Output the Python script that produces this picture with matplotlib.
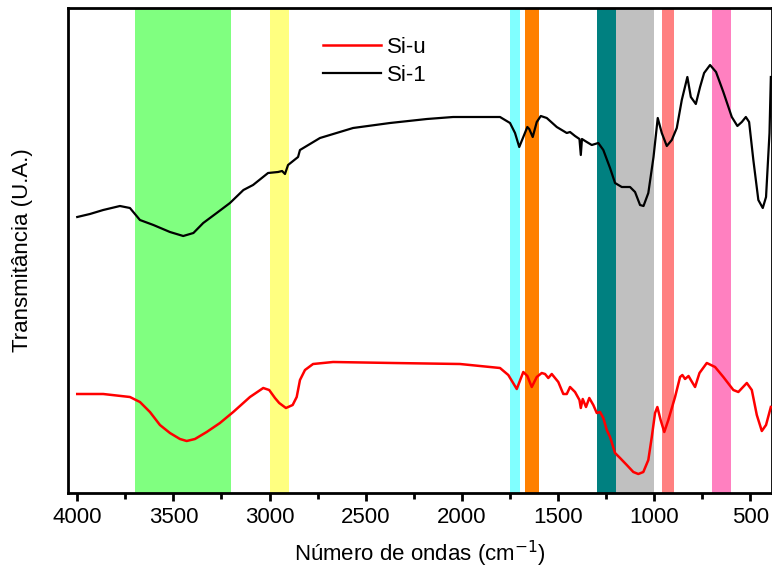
import numpy as np
import matplotlib
matplotlib.use("Agg")
import matplotlib.pyplot as plt
from matplotlib.ticker import MultipleLocator

plt.rcParams['font.family'] = ['Liberation Sans', 'DejaVu Sans']

# Si-1 (black)
wn_si1 = [4000, 3934, 3865, 3778, 3726, 3674, 3604, 3518, 3449, 3396, 3345, 3275, 3206,
          3136, 3086, 3008, 2956, 2935, 2920, 2904, 2852, 2842, 2738, 2566, 2374, 2182,
          2046, 1906, 1854, 1802, 1750, 1724, 1702, 1681, 1660, 1650, 1632, 1611, 1590,
          1559, 1507, 1455, 1438, 1412, 1389, 1382, 1376, 1351, 1325, 1291, 1265, 1230,
          1204, 1169, 1126, 1100, 1074, 1056, 1031, 1004, 982, 961, 935, 909, 883, 857,
          828, 810, 784, 762, 741, 710, 679, 641, 597, 568, 545, 524, 507, 485, 459,
          436, 419, 401, 394]
t_si1 = [276, 279, 283, 287, 285, 273, 268, 261, 257, 260, 270, 280, 290,
         303, 308, 320, 321, 322, 319, 328, 336, 343, 355, 365, 370, 374,
         376, 376, 376, 376, 370, 360, 346, 356, 366, 364, 356, 371, 377,
         375, 366, 360, 361, 357, 354, 338, 354, 351, 348, 350, 343, 325,
         310, 306, 306, 301, 288, 287, 300, 336, 375, 360, 347, 353, 365, 393,
         416, 396, 389, 406, 420, 428, 421, 401, 376, 367, 371, 376, 371, 333, 293,
         285, 296, 360, 416]

# Si-u (red)
wn_siu = [4000, 3865, 3726, 3674, 3622, 3570, 3518, 3466, 3431, 3388, 3327, 3258, 3189,
          3102, 3033, 3002, 2972, 2950, 2915, 2880, 2859, 2842, 2816, 2774, 2670, 2358,
          2010, 1906, 1854, 1802, 1759, 1715, 1681, 1660, 1637, 1611, 1585, 1568, 1551,
          1533, 1499, 1473, 1455, 1438, 1412, 1389, 1382, 1372, 1355, 1338, 1317, 1299,
          1282, 1265, 1247, 1230, 1204, 1178, 1143, 1109, 1083, 1057, 1031, 1013, 996,
          984, 967, 948, 927, 892, 866, 854, 840, 822, 810, 788, 765, 727, 684, 641,
          589, 563, 519, 493, 467, 441, 419, 394]
t_siu = [99, 99, 96, 91, 81, 68, 60, 54, 52, 54, 61, 70, 81,
         96, 105, 103, 95, 90, 85, 88, 96, 113, 123, 129, 131, 130,
         129, 127, 126, 125, 118, 104, 121, 117, 106, 116, 120, 119, 115,
         119, 111, 99, 99, 106, 101, 93, 85, 94, 86, 95, 88, 80,
         81, 75, 63, 56, 40, 35, 28, 21, 19, 21, 33, 56, 80,
         86, 73, 61, 73, 96, 116, 118, 114, 117, 113, 106, 120, 130, 126, 116,
         103, 101, 110, 103, 78, 62, 68, 86]

# highlighted bands (start, end, colour)
band_lo = [3700, 3000, 1750, 1670, 1300, 1200, 960, 700]
band_hi = [3200, 2900, 1700, 1600, 1200, 1000, 900, 600]
band_col = ['#80FF80', '#FFFF80', '#80FFFF', '#FF8000', '#008080', '#C0C0C0', '#FF8080', '#FF80C0']

fig = plt.figure(figsize=(7.72, 5.77), dpi=100)
ax = fig.add_axes([68/772, 84/577, 704/772, 485/577])

for lo, hi, c in zip(band_lo, band_hi, band_col):
    ax.axvspan(lo, hi, color=c, lw=0, zorder=1)

ax.plot(wn_siu, t_siu, color='red', lw=1.8, label='Si-u', zorder=3)
ax.plot(wn_si1, t_si1, color='black', lw=1.6, label='Si-1', zorder=3)

ax.set_xlim(4048, 388)
ax.set_ylim(0, 485)
ax.set_yticks([])
ax.xaxis.set_major_locator(MultipleLocator(500))
ax.xaxis.set_minor_locator(MultipleLocator(250))
ax.tick_params(axis='x', which='major', direction='out', length=6, width=2, labelsize=16, pad=4)
ax.tick_params(axis='x', which='minor', direction='out', length=4, width=2)
for s in ax.spines.values():
    s.set_linewidth(2)

ax.set_xlabel('Número de ondas (cm$^{-1}$)', fontsize=16, labelpad=8)
ax.set_ylabel('Transmitância (U.A.)', fontsize=16)
ax.yaxis.set_label_coords(-0.05, 0.5)

ax.legend(loc='upper left', bbox_to_anchor=(0.362, 0.94), frameon=False, fontsize=16,
          handlelength=2.6, handletextpad=0.3, labelspacing=0.3, borderpad=0, borderaxespad=0)

plt.savefig('out.png', dpi=100)
